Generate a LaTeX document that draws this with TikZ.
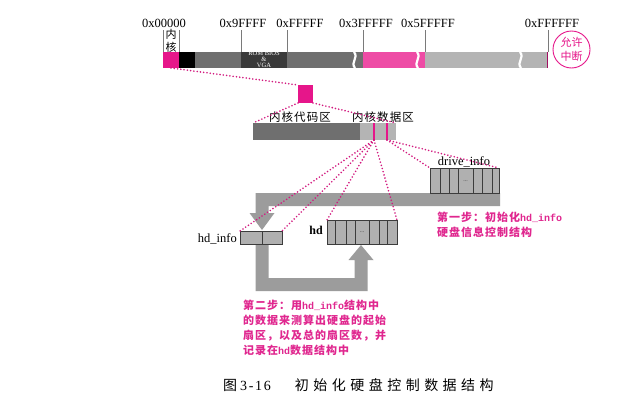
\documentclass[tikz,border=0pt]{standalone}
\usepackage{fontspec}
\setmainfont{Liberation Serif}
\newfontfamily\cjk{Noto Sans CJK SC}
\newfontfamily\cjksp[LetterSpace=9]{Noto Sans CJK SC}
\newfontfamily\capcjk[LetterSpace=32]{Noto Sans CJK SC}
\newfontfamily\capser[LetterSpace=12]{Liberation Serif}
\newfontfamily\monob{Liberation Mono}
\usetikzlibrary{arrows.meta}
\definecolor{kpink}{HTML}{E6168A}
\definecolor{lpink}{HTML}{EE4CA5}
\definecolor{dgray}{HTML}{6F6F6F}
\definecolor{rgray}{HTML}{3A3A3A}
\definecolor{lgray}{HTML}{B4B4B4}
\definecolor{dotc}{HTML}{D2197F}
\definecolor{txtm}{HTML}{E0278F}
\definecolor{agray}{HTML}{9C9C9C}
\definecolor{edge}{HTML}{3C3C3C}
\definecolor{cellf}{HTML}{B0B0B0}
\definecolor{tickc}{HTML}{7A7A7A}
\begin{document}
\begin{tikzpicture}[x=1pt,y=-1pt,
  seg/.style={inner sep=0pt, outer sep=0pt, anchor=north west, minimum height=16pt},
  cell/.style={draw=edge, fill=cellf, line width=0.8pt, inner sep=0pt, outer sep=0pt, anchor=north west},
  dotl/.style={draw=dotc, line width=1.8pt, dash pattern=on 0pt off 3.3pt, line cap=round},
  hexl/.style={font=\fontsize{12.5}{14}\selectfont, anchor=base, inner sep=0pt},
  tickl/.style={draw=tickc, line width=0.6pt},
  brk/.style={draw=white, line width=2.2pt},
  steptxt/.style={text=txtm, font={\cjksp\bfseries\fontsize{11}{15}\selectfont}, align=left, anchor=north west, inner sep=0pt},
  divl/.style={draw=edge, line width=0.8pt},
  dotsl/.style={font=\fontsize{6}{6}\selectfont, text=edge, inner sep=0pt},
  bigarr/.style={fill=agray},
]
\useasboundingbox[fill=white] (0,0) rectangle (630,410);

% memory bar
\node[seg, fill=kpink, minimum width=16pt] (kseg) at (163,52) {};
\fill[black] (179,52) rectangle (195,68);
\fill[dgray] (195,52) rectangle (241,68);
\node[seg, fill=rgray, minimum width=46pt] (rom) at (241,52) {};
\fill[dgray] (287,52) rectangle (363,68);
\fill[lpink] (363,52) rectangle (425,68);
\fill[lgray] (425,52) rectangle (548,68);
\draw[kpink!70!black, line width=1pt] (547.5,52) -- (547.5,68);
\draw[brk] (354,52) .. controls (359,58) and (350,62) .. (355,68);
\draw[brk] (417,52) .. controls (422,58) and (413,62) .. (418,68);
\draw[brk] (520,52) .. controls (525,58) and (516,62) .. (521,68);
\node[text=white, font=\fontsize{6.5}{6}\selectfont, align=center, inner sep=0pt] (romt) at (264,59) {ROM BIOS\\\&\\VGA};

\foreach \x in {163,179,241,287,363,425,548} \draw[tickl] (\x,30) -- (\x,52);
\node[hexl] (l0) at (164,27) {0x00000};
\node[hexl] (l1) at (243,27) {0x9FFFF};
\node[hexl] (l2) at (300,27) {0xFFFFF};
\node[hexl] (l3) at (366,27) {0x3FFFFF};
\node[hexl] (l4) at (428,27) {0x5FFFFF};
\node[hexl] (l5) at (552,27) {0xFFFFFF};
\node[font={\cjk\fontsize{11}{13}\selectfont}, align=center, inner sep=0pt] (kern) at (171,40.5) {内\\核};
\node[circle, draw=kpink, line width=0.9pt, minimum size=37pt, inner sep=0pt, text=kpink,
      font={\cjk\fontsize{11}{14}\selectfont}, align=center] (irq) at (571.5,49.5) {允许\\中断};

% kernel image
\node[seg, fill=kpink, minimum width=15pt, minimum height=18pt] (sq) at (298,85) {};
\node[seg, fill=lgray, minimum width=143pt, minimum height=17pt] (kbar) at (253,123) {};
\fill[dgray] (253,123) rectangle (360,140);
\draw[kpink, line width=1.2pt] (374,123) -- (374,140) coordinate (pA);
\draw[kpink, line width=1.2pt] (387,123) -- (387,140) coordinate (pB);
\node[font={\cjksp\fontsize{11.5}{13}\selectfont}, inner sep=0pt] (codel) at (300,117) {内核代码区};
\node[font={\cjksp\fontsize{11.5}{13}\selectfont}, inner sep=0pt] (datal) at (383,117) {内核数据区};

% big arrows
\fill[bigarr] (500,193) -- (255.5,193) -- (255.5,213) -- (249.5,213) -- (262,230)
   -- (274.5,213) -- (268.5,213) -- (268.5,206) -- (500,206) -- cycle;
\fill[bigarr] (255.5,244) -- (255.5,291) -- (367.5,291) -- (367.5,260) -- (373.5,260)
   -- (361,245) -- (348.5,260) -- (354.5,260) -- (354.5,278) -- (268.5,278) -- (268.5,244) -- cycle;

% structures
\node[cell, minimum width=69pt, minimum height=25pt] (drive) at (430,168) {};
\foreach \x in {440,449,458,473,482,492} \draw[divl] (\x,168) -- (\x,193);
\node[dotsl] at (465.5,181) {...};
\node[anchor=base, inner sep=0pt, font=\fontsize{12.5}{14}\selectfont] (drivel) at (464,165.5) {drive\_info};

\node[cell, minimum width=70pt, minimum height=24pt] (hd) at (327,220) {};
\foreach \x in {335,346,355,369,379,387} \draw[divl] (\x,220) -- (\x,244);
\node[dotsl] at (362,232) {...};
\node[anchor=base east, inner sep=0pt, font=\bfseries\fontsize{12}{14}\selectfont] (hdl) at (323,234.5) {hd};

\node[cell, minimum width=42pt, minimum height=13pt] (hdinfo) at (240,231) {};
\draw[divl] (262,231) -- (262,244);
\node[anchor=base east, inner sep=0pt, font=\fontsize{12.5}{14}\selectfont] (hdinfol) at (237,242) {hd\_info};

% dotted connectors
\draw[dotl] (kseg.south) -- (sq.north west);
\draw[dotl] (sq.south west) -- (kbar.north west);
\draw[dotl] (sq.south east) -- (kbar.north east);
\draw[dotl] (pA) -- (hdinfo.north west);
\draw[dotl] (pA) -- (hdinfo.north east);
\draw[dotl] (pA) -- (hd.north west);
\draw[dotl] (pA) -- (hd.north east);
\draw[dotl] (pB) -- (drive.north west);
\draw[dotl] (pB) -- (drive.north east);

% step texts
\node[steptxt] (s1) at (437,212) {第一步：初始化{\monob\bfseries\fontsize{10}{15}\selectfont hd\_info}\\硬盘信息控制结构};
\node[steptxt] (s2) at (243,300) {第二步：用{\monob\bfseries\fontsize{10}{15}\selectfont hd\_info}结构中\\的数据来测算出硬盘的起始\\扇区，以及总的扇区数，并\\记录在{\monob\bfseries\fontsize{10}{15}\selectfont hd}数据结构中};

% caption
\node[anchor=base west, inner sep=0pt, font=\fontsize{14}{16}\selectfont] (cap) at (223,390.5)
  {{\capcjk 图}\hspace{3pt}{\capser 3-16}\hspace{24pt}{\capcjk 初始化硬盘控制数据结构}};
\end{tikzpicture}
\end{document}
